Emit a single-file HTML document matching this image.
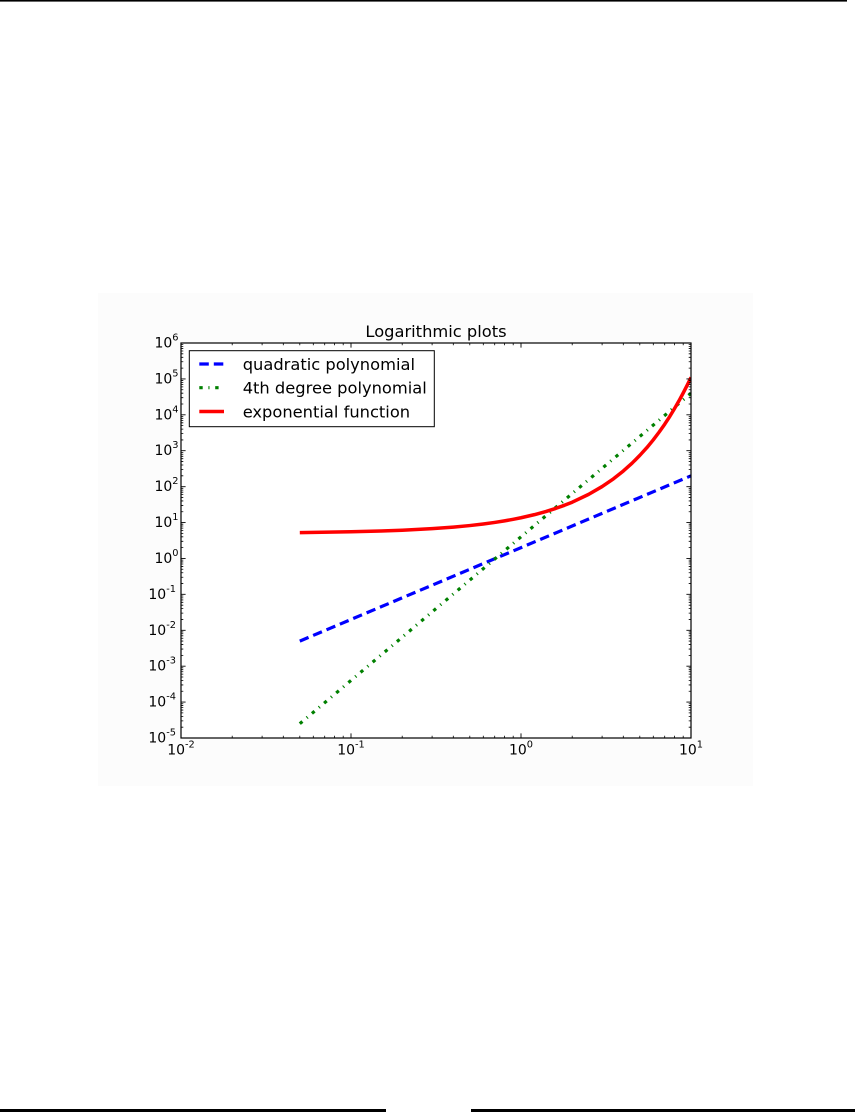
<!DOCTYPE html>
<html>
<head>
<meta charset="utf-8">
<style>
html,body{margin:0;padding:0;background:#ffffff;}
svg{display:block;}
text{font-family:"DejaVu Sans","Liberation Sans",sans-serif;fill:#000;}
</style>
</head>
<body>
<svg width="857" height="1112" viewBox="0 0 857 1112" xmlns="http://www.w3.org/2000/svg">
  <defs>
    <clipPath id="ax"><rect x="181" y="343" width="510" height="395"/></clipPath>
    <g id="ydec">
      <path d="M181 -10.81h2.3M181 -17.13h2.3M181 -21.62h2.3M181 -25.10h2.3M181 -27.94h2.3M181 -30.35h2.3M181 -32.42h2.3M181 -34.26h2.3
               M691 -10.81h-2.3M691 -17.13h-2.3M691 -21.62h-2.3M691 -25.10h-2.3M691 -27.94h-2.3M691 -30.35h-2.3M691 -32.42h-2.3M691 -34.26h-2.3"
            stroke="#000" stroke-width="0.8" fill="none"/>
    </g>
    <g id="xdec">
      <path d="M51.2 738v-2.3M81.1 738v-2.3M102.3 738v-2.3M118.8 738v-2.3M132.3 738v-2.3M143.7 738v-2.3M153.5 738v-2.3M162.2 738v-2.3
               M51.2 343v2.3M81.1 343v2.3M102.3 343v2.3M118.8 343v2.3M132.3 343v2.3M143.7 343v2.3M153.5 343v2.3M162.2 343v2.3"
            stroke="#000" stroke-width="0.8" fill="none"/>
    </g>
  </defs>

  <!-- top rule -->
  <rect x="0" y="0" width="847" height="1.6" fill="#000"/>
  <!-- bottom rules -->
  <rect x="0" y="1109" width="386" height="3" fill="#000"/>
  <rect x="471" y="1109" width="384" height="3" fill="#000"/>

  <!-- figure background -->
  <rect x="98" y="293" width="655" height="493" fill="#fcfcfc"/>
  <!-- axes background -->
  <rect x="181" y="343" width="510" height="395" fill="#ffffff"/>

  <!-- series -->
  <g clip-path="url(#ax)" fill="none">
    <path d="M299.8 641.1L691 475.8" stroke="#0000ff" stroke-width="3.2" stroke-dasharray="9.5 5"/>
    <path d="M299.8 723.7L691 393.2" stroke="#008000" stroke-width="3.2" stroke-dasharray="3.4 5.7 1.1 5.7"/>
    <path d="M299.8 532.58L351 531.8L380.9 531.02L402.2 530.24L432.1 528.68L453.35 527.12L469.8 525.56L483.3 524L494.7 522.44L504.5 520.88L513.2 519.3L521 517.76L534.5 514.64L545.8 511.52L555.7 508.4L564.4 505.3L572.2 502.2L588.6 494.37L602.1 486.57L613.5 478.77L623.35 470.98L632.05 463.18L639.8 455.38L646.9 447.6L653.3 439.8L659.2 432L664.7 424.2L669.8 416.4L674.5 408.6L679 400.8L683.2 393L687.2 385.2L691 377.4"
          stroke="#ff0000" stroke-width="3.5" stroke-linejoin="round"/>
  </g>

  <!-- minor ticks -->
  <use href="#ydec" x="0" y="738"/>
  <use href="#ydec" x="0" y="702.09"/>
  <use href="#ydec" x="0" y="666.18"/>
  <use href="#ydec" x="0" y="630.27"/>
  <use href="#ydec" x="0" y="594.36"/>
  <use href="#ydec" x="0" y="558.45"/>
  <use href="#ydec" x="0" y="522.55"/>
  <use href="#ydec" x="0" y="486.64"/>
  <use href="#ydec" x="0" y="450.73"/>
  <use href="#ydec" x="0" y="414.82"/>
  <use href="#ydec" x="0" y="378.91"/>
  <use href="#xdec" x="181" y="0"/>
  <use href="#xdec" x="351" y="0"/>
  <use href="#xdec" x="521" y="0"/>

  <!-- major ticks -->
  <path d="M181 343h4.6M181 378.91h4.6M181 414.82h4.6M181 450.73h4.6M181 486.64h4.6M181 522.55h4.6M181 558.45h4.6M181 594.36h4.6M181 630.27h4.6M181 666.18h4.6M181 702.09h4.6M181 738h4.6
           M691 343h-4.6M691 378.91h-4.6M691 414.82h-4.6M691 450.73h-4.6M691 486.64h-4.6M691 522.55h-4.6M691 558.45h-4.6M691 594.36h-4.6M691 630.27h-4.6M691 666.18h-4.6M691 702.09h-4.6M691 738h-4.6
           M181 738v-4.6M351 738v-4.6M521 738v-4.6M691 738v-4.6
           M181 343v4.6M351 343v4.6M521 343v4.6M691 343v4.6"
        stroke="#000" stroke-width="0.9" fill="none"/>

  <!-- spines -->
  <rect x="181" y="343" width="510" height="395" fill="none" stroke="#000" stroke-width="1.2"/>

  <!-- y tick labels -->
  <g font-size="14" text-anchor="end">
    <text x="178.5" y="347.5">10<tspan font-size="9.8" dy="-7">6</tspan></text>
    <text x="178.5" y="383.4">10<tspan font-size="9.8" dy="-7">5</tspan></text>
    <text x="178.5" y="419.3">10<tspan font-size="9.8" dy="-7">4</tspan></text>
    <text x="178.5" y="455.2">10<tspan font-size="9.8" dy="-7">3</tspan></text>
    <text x="178.5" y="491.1">10<tspan font-size="9.8" dy="-7">2</tspan></text>
    <text x="178.5" y="527.0">10<tspan font-size="9.8" dy="-7">1</tspan></text>
    <text x="178.5" y="563.0">10<tspan font-size="9.8" dy="-7">0</tspan></text>
    <text x="176" y="598.9">10<tspan font-size="9.8" dy="-7">-1</tspan></text>
    <text x="176" y="634.8">10<tspan font-size="9.8" dy="-7">-2</tspan></text>
    <text x="176" y="670.7">10<tspan font-size="9.8" dy="-7">-3</tspan></text>
    <text x="176" y="706.6">10<tspan font-size="9.8" dy="-7">-4</tspan></text>
    <text x="176" y="742.7">10<tspan font-size="9.8" dy="-7">-5</tspan></text>
  </g>

  <!-- x tick labels -->
  <g font-size="14" text-anchor="middle">
    <text x="181" y="754.7">10<tspan font-size="9.8" dy="-7">-2</tspan></text>
    <text x="351" y="754.7">10<tspan font-size="9.8" dy="-7">-1</tspan></text>
    <text x="521" y="754.7">10<tspan font-size="9.8" dy="-7">0</tspan></text>
    <text x="691" y="754.7">10<tspan font-size="9.8" dy="-7">1</tspan></text>
  </g>

  <!-- title -->
  <text x="436" y="337" font-size="16.3" text-anchor="middle">Logarithmic plots</text>

  <!-- legend -->
  <rect x="189.3" y="350.7" width="245" height="76" fill="#ffffff" stroke="#000" stroke-width="1"/>
  <path d="M199.3 364H224" stroke="#0000ff" stroke-width="3.2" stroke-dasharray="9.5 5" fill="none"/>
  <path d="M199.3 387.7H224" stroke="#008000" stroke-width="3.2" stroke-dasharray="3.4 5.7 1.1 5.7" fill="none"/>
  <path d="M199.3 411.5H224" stroke="#ff0000" stroke-width="3.5" fill="none"/>
  <g font-size="16.3">
    <text x="242.7" y="370">quadratic polynomial</text>
    <text x="242.7" y="393.7">4th degree polynomial</text>
    <text x="242.7" y="417.5">exponential function</text>
  </g>
</svg>
</body>
</html>
